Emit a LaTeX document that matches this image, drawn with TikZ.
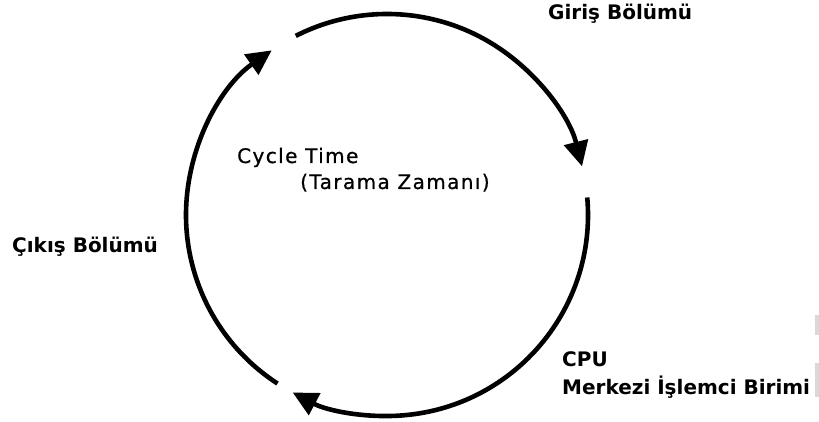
\documentclass[tikz,border=0pt]{standalone}
\usepackage{fontspec}
\usetikzlibrary{arrows.meta}
\newfontfamily\boldlbl{DejaVu Sans Bold}
\newfontfamily\reglbl[LetterSpace=7,FakeBold=0.8]{DejaVu Sans}
\tikzset{
  cyc/.style={line width=4.6pt, -{Triangle[length=25pt,width=24pt]}},
  lblb/.style={anchor=base west, inner sep=0pt, font=\boldlbl\fontsize{20pt}{22pt}\selectfont, text=black},
  lblr/.style={anchor=base west, inner sep=0pt, font=\reglbl\fontsize{20pt}{22pt}\selectfont, text=black}
}
\begin{document}
\begin{tikzpicture}[x=1pt,y=1pt]
\useasboundingbox (0,0) rectangle (819,422);
\coordinate (c) at (387,207);
% cycle arcs
\draw[cyc] ([shift={(117:201pt)}]c) arc[start angle=117,end angle=14,radius=201pt];
\draw[cyc] ([shift={(5:201pt)}]c) arc[start angle=5,end angle=-118,radius=201pt];
\draw[cyc] ([shift={(237:201pt)}]c) arc[start angle=237,end angle=125,radius=201pt];
% labels
\node[lblb] (giris) at (548,402) {Giriş Bölümü};
\node[lblr] (cycle) at (237,259) {Cycle Time};
\node[lblr] (tarama) at (300,233) {(Tarama Zamanı)};
\node[lblb] (cikis) at (12,169) {Çıkış Bölümü};
\node[lblb] (cpu) at (562,55) {CPU};
\node[lblb] (merkezi) at (562,27) {Merkezi İşlemci Birimi};
% faint edge marks
\fill[black!15] (815,87) rectangle (819,107);
\fill[black!15] (815,25) rectangle (819,59);
\end{tikzpicture}
\end{document}
